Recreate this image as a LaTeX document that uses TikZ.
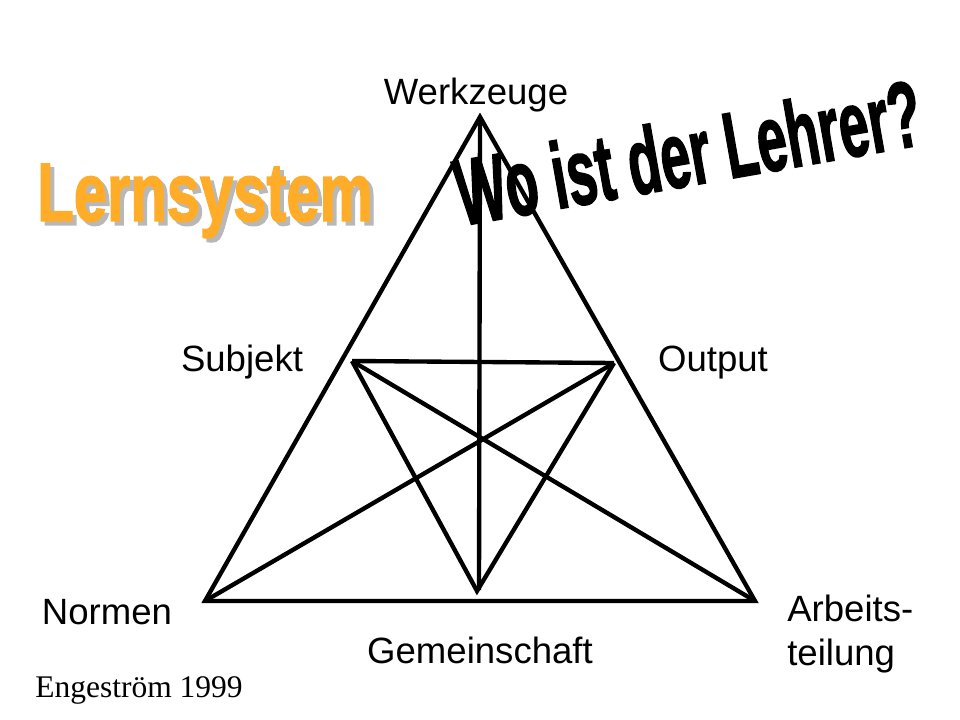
\documentclass[tikz,border=0pt]{standalone}
\usepackage{fontspec}
\setmainfont{Liberation Sans}
\newfontfamily\serifface{Liberation Serif}
\newfontfamily\heavyface[BoldFont={Liberation Sans Bold}, BoldFeatures={FakeBold=2}]{Liberation Sans}
\usetikzlibrary{calc}

\tikzset{
  edge/.style={line width=3.1pt, black},
  lbl/.style={font=\fontsize{26}{31}\selectfont, inner sep=0pt},
  wordart/.style={font=\heavyface\fontsize{42.5}{46}\bfseries, inner sep=0pt}
}

\begin{document}
\begin{tikzpicture}[x=0.025cm, y=-0.025cm]
                    \useasboundingbox (0,0) rectangle (960,720);
                    % corners of the triangle
                    \coordinate (werk) at (480,117);
                    \coordinate (norm) at (205,601);
                    \coordinate (arb) at (755,601);
                    % inner points
                    \coordinate (subj) at (352,361);
                    \coordinate (outp) at (614,363);
                    \coordinate (gem) at (477,591);
                    \coordinate (foot) at (479,590);

                    \draw[edge, line join=miter] (werk) -- (norm) -- (arb) -- cycle;
                    \draw[edge] (werk) -- (foot);
                    \draw[edge] (subj) -- (outp);
                    \draw[edge] (norm) -- (outp);
                    \draw[edge] (arb) -- (subj);
                    \draw[edge, line join=miter] (subj) -- (gem) -- (outp);

                    % labels
                    \node[lbl] (werklbl) at (476,95) {Werkzeuge};
                    \node[lbl] (subjlbl) at (242,362) {Subjekt};
                    \node[lbl] (outplbl) at (713,363) {Output};
                    \node[lbl] (normlbl) at (107,612) {Normen};
                    \node[lbl] (gemlbl) at (480,650) {Gemeinschaft};
                    \node[lbl, anchor=west, align=left] (arblbl) at (787,634) {Arbeits-\\teilung};
                    \node[inner sep=0pt, font=\serifface\fontsize{22.4}{26}\selectfont] (quelle) at (139,690) {Engeström 1999};

                    % titles
                    \node[wordart, text=black!28] (lernschatten) at (209,205) {\scalebox{1}[1.38]{Lernsystem}};
                    \node[wordart, text={rgb,255:red,255;green,172;blue,40}] (lern) at (205,201) {\scalebox{1}[1.38]{Lernsystem}};
                    \node[wordart, font=\heavyface\fontsize{38}{42}\bfseries, rotate=10] (frage) at (688,152) {\scalebox{1}[1.75]{Wo ist der Lehrer?}};
                \end{tikzpicture}
\end{document}
